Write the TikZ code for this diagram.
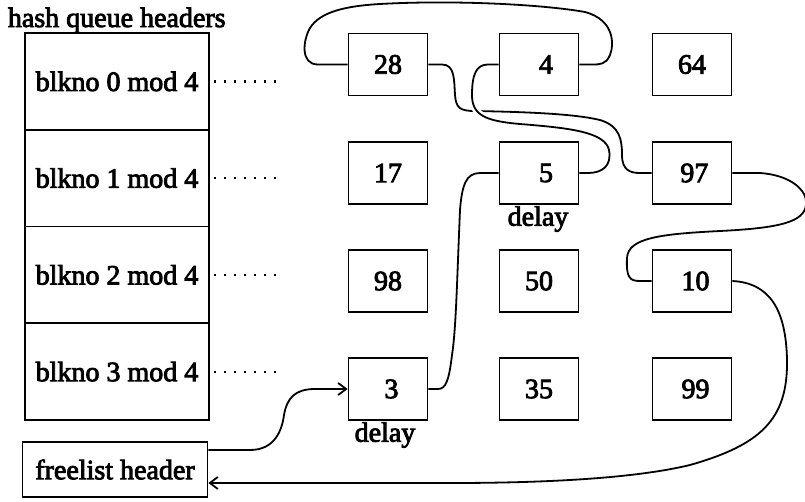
\documentclass[tikz,border=0pt]{standalone}
\usepackage{fontspec}
\setmainfont{Liberation Serif}[FakeBold=3]
\usetikzlibrary{arrows.meta}
\tikzset{
  buf/.style={draw, minimum width=79pt, minimum height=62pt, inner sep=0pt},
  hashrow/.style={draw, minimum width=184pt, minimum height=96.75pt, inner sep=0pt},
  hashdots/.style={line width=2.2pt, dash pattern=on 2.2pt off 7.8pt},
  freearrow/.style={-{Straight Barb[length=8pt,width=12pt,line width=1.8pt]}}
}
\begin{document}
\begin{tikzpicture}[x=1pt, y=-1pt, line width=1.8pt, font=\fontsize{28}{31}\selectfont]
\useasboundingbox (0,0) rectangle (805,501);

\node[anchor=base west, inner sep=0pt] (title) at (7,27) {hash queue headers};

% hash queue headers
\node[hashrow] (h0) at (117,81.4) {blkno 0 mod 4};
\node[hashrow] (h1) at (117,178.1) {blkno 1 mod 4};
\node[hashrow] (h2) at (117,274.9) {blkno 2 mod 4};
\node[hashrow] (h3) at (117,371.6) {blkno 3 mod 4};
\draw[hashdots] ([xshift=4pt]h0.east) -- +(62,0);
\draw[hashdots] ([xshift=4pt]h1.east) -- +(62,0);
\draw[hashdots] ([xshift=4pt]h2.east) -- +(62,0);
\draw[hashdots] ([xshift=4pt]h3.east) -- +(62,0);

\node[draw, minimum width=185pt, minimum height=55pt, inner sep=0pt] (free) at (115,469.5) {freelist header};

% buffers
\node[buf] (b28) at (388,64.5) {28};
\node[buf] (b4) at (539,64.5) {~~4};
\node[buf] (b64) at (692,64.5) {64};
\node[buf] (b17) at (388,173) {17};
\node[buf] (b5) at (539,173) {~~5};
\node[buf] (b97) at (692,173) {\,97};
\node[buf] (b98) at (388,281) {98};
\node[buf] (b50) at (539,281) {50};
\node[buf] (b10) at (692,281) {~10};
\node[buf] (b3) at (388,389) {~3};
\node[buf] (b35) at (539,389) {35};
\node[buf] (b99) at (692,389) {~99};
\node[inner sep=0pt] (d5) at (538,219) {delay};
\node[inner sep=0pt] (d3) at (385,435) {delay};

% hash queue 0 mod 4
\draw (b28.west) -- (318,64.5) .. controls (300,64.5) and (303,40) .. (310,28)
  .. controls (320,12) and (345,6) .. (380,4) .. controls (450,0) and (540,4) .. (585,12)
  .. controls (615,20) and (614,45) .. (610,55) .. controls (606,64.5) and (600,64.5) .. (592,64.5)
  -- (b4.east);
\draw (b28.east) -- (442,64.5) .. controls (455,64.5) and (454,80) .. (455,95)
  .. controls (456,108) and (460,111) .. (475,111) .. controls (530,112) and (575,114) .. (600,120)
  .. controls (620,126) and (622,140) .. (622,155) .. controls (622,170) and (630,173) .. (640,173)
  -- (b97.west);
\draw[preaction={draw, white, line width=7pt, shorten <=5pt, shorten >=5pt}]
  (b4.west) -- (488,64.5) .. controls (476,64.5) and (472,75) .. (472,95)
  .. controls (472,115) and (485,121) .. (520,124) .. controls (570,128) and (605,132) .. (609,150)
  .. controls (612,166) and (602,173) .. (588,173) -- (b5.east);
\draw (b5.west) -- (480,173) .. controls (466,173) and (462,185) .. (460,210)
  .. controls (457,280) and (456,330) .. (452,355) .. controls (449,380) and (446,389) .. (438,389)
  -- (b3.east);
\draw (b97.east) -- (760,173) .. controls (790,175) and (808,190) .. (806,205)
  .. controls (804,222) and (780,228) .. (720,231) .. controls (660,234) and (628,238) .. (627,258)
  .. controls (626,278) and (630,281) .. (640,281) -- (b10.west);

% free list
\draw[freearrow] (b10.east) .. controls (770,283) and (786,310) .. (787,360)
  .. controls (788,420) and (760,445) .. (690,465) .. controls (640,477) and (560,483) .. (450,483)
  -- ([yshift=-13.5pt]free.east);
\draw[freearrow] ([yshift=19.5pt]free.east) -- (250,450) .. controls (275,450) and (282,430) .. (284,415)
  .. controls (287,398) and (295,389) .. (315,389) -- (b3.west);
\end{tikzpicture}
\end{document}
